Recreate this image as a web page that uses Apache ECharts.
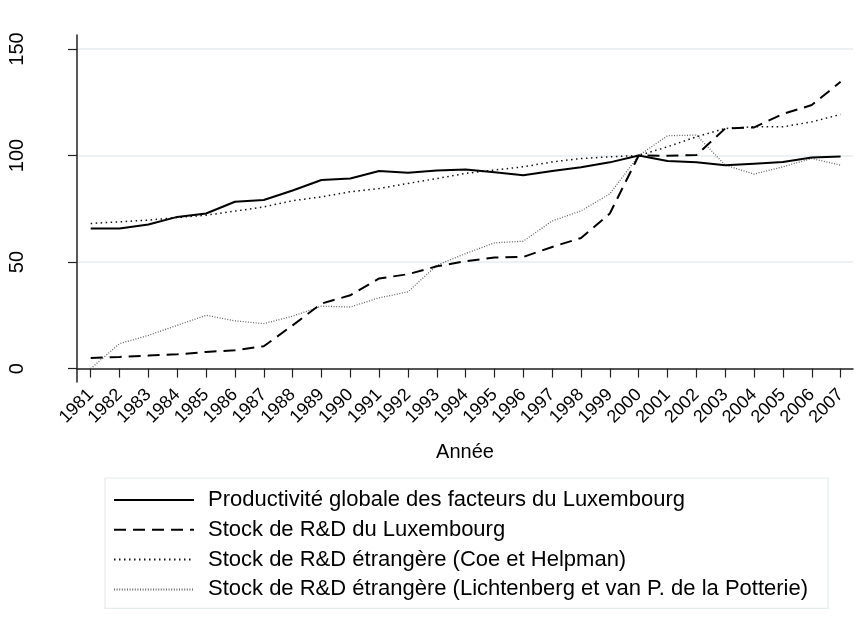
<!DOCTYPE html>
<html>
<head>
<meta charset="utf-8">
<script src="https://cdn.jsdelivr.net/npm/echarts@6/dist/echarts.min.js"></script>
<style>
html,body{margin:0;padding:0;background:#fff;}
#chart{width:860px;height:628px;}
</style>
</head>
<body>
<div id="chart"></div>
<script>
const years = [1981,1982,1983,1984,1985,1986,1987,1988,1989,1990,1991,1992,1993,1994,1995,1996,1997,1998,1999,2000,2001,2002,2003,2004,2005,2006,2007];
const yTicks = [0, 50, 100, 150];
const seriesNames = [
  'Productivité globale des facteurs du Luxembourg',
  'Stock de R&D du Luxembourg',
  'Stock de R&D étrangère (Coe et Helpman)',
  'Stock de R&D étrangère (Lichtenberg et van P. de la Potterie)'
];
const ptf = [65.8,65.8,67.6,71.2,72.8,78.3,79.1,83.6,88.5,89.2,92.7,91.9,93.0,93.5,92.1,90.7,92.7,94.5,96.8,100,97.4,96.9,95.4,96.2,97.0,99.1,99.6];
const rdLux = [5.0,5.5,6.1,6.7,7.8,8.6,10.5,20.3,30.5,34.4,42.3,44.3,48.0,50.4,52.1,52.4,57.1,61.3,72.8,100,99.9,100.2,112.7,113.2,119.5,123.7,134.6];
const coe = [68.1,68.9,69.7,70.9,72.0,73.9,75.9,78.8,80.6,83.0,84.5,86.9,89.2,91.6,93.2,94.7,97.0,98.6,99.4,100,104.1,108.8,112.7,113.5,113.5,115.8,119.3];
const licht = [0,11.7,15.6,20.3,25.0,22.4,21.1,24.6,29.3,28.9,33.2,36.0,48.5,54.0,59.0,59.8,69.3,74.0,82.0,100,109.3,109.6,95.5,91.3,94.7,98.6,95.5];

const pair = arr => years.map((y, i) => [y, arr[i]]);
const FONT = 'Liberation Sans, Arial, sans-serif';

const chart = echarts.init(document.getElementById('chart'), null, {renderer: 'canvas'});
chart.setOption({
  animation: false,
  backgroundColor: '#ffffff',
  grid: {left: 77, right: 7, top: 35, bottom: 246, containLabel: false},
  xAxis: {
    type: 'value',
    min: 1980.525,
    max: 2007.43,
    name: 'Année',
    nameLocation: 'middle',
    nameGap: 60,
    nameMoveOverlap: false,
    nameTextStyle: {fontFamily: FONT, fontSize: 20, color: '#000'},
    axisLine: {show: true, lineStyle: {color: '#222', width: 1.5}},
    axisTick: {show: true, length: 9, lineStyle: {color: '#222', width: 1.2}, customValues: years},
    axisLabel: {show: true, rotate: 45, margin: 10, fontFamily: FONT, fontSize: 18, color: '#000',
      customValues: years, formatter: v => String(Math.round(v))},
    splitLine: {show: false}
  },
  yAxis: {
    type: 'value',
    min: -6.29,
    max: 156.57,
    axisLine: {show: true, lineStyle: {color: '#222', width: 1.5}},
    axisTick: {show: true, length: 9, lineStyle: {color: '#222', width: 1.2}, customValues: yTicks},
    axisLabel: {show: true, rotate: 90, margin: 50, fontFamily: FONT, fontSize: 20, color: '#000',
      customValues: yTicks, formatter: v => String(Math.round(v))},
    splitLine: {show: true, lineStyle: {color: '#e6eef0', width: 1.5}}
  },
  legend: {
    show: true,
    orient: 'vertical',
    left: 105,
    top: 478,
    padding: [11, 20, 8, 8],
    itemWidth: 80,
    itemHeight: 22,
    itemGap: 7.8,
    itemStyle: {opacity: 0},
    borderColor: '#e4eced',
    borderWidth: 1.2,
    backgroundColor: '#fff',
    textStyle: {fontFamily: FONT, fontSize: 22, color: '#000', padding: [0,0,0,9]},
    data: seriesNames
  },
  series: [
    {name: seriesNames[3], type: 'line', symbol: 'none', data: pair(licht),
      lineStyle: {color: '#666', width: 1.3, type: [1, 1.6]}, itemStyle: {color: '#666'}},
    {name: seriesNames[2], type: 'line', symbol: 'none', data: pair(coe),
      lineStyle: {color: '#111', width: 1.5, type: [1.5, 3.5]}, itemStyle: {color: '#111'}},
    {name: seriesNames[1], type: 'line', symbol: 'none', data: pair(rdLux),
      lineStyle: {color: '#000', width: 2, type: [12, 7]}, itemStyle: {color: '#000'}},
    {name: seriesNames[0], type: 'line', symbol: 'none', data: pair(ptf),
      lineStyle: {color: '#000', width: 2}, itemStyle: {color: '#000'}}
  ]
});
</script>
</body>
</html>
